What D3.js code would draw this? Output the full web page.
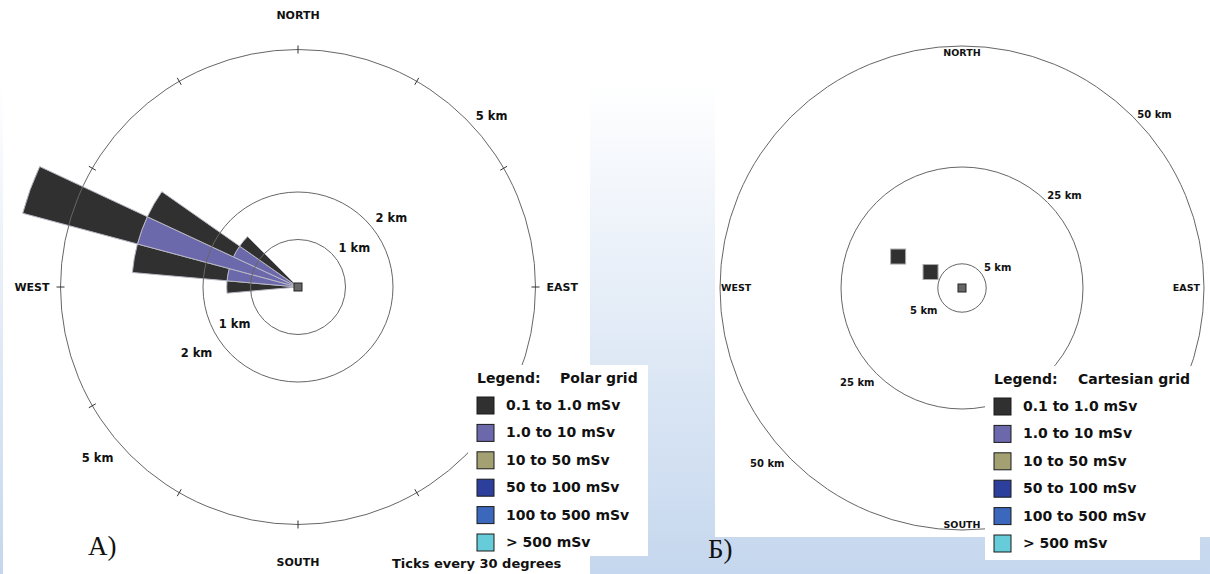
<!DOCTYPE html>
<html>
<head>
<meta charset="utf-8">
<script src="https://cdn.jsdelivr.net/npm/d3@7"></script>
<style>
  body { margin: 0; background: #fff; }
  svg text { font-family: "DejaVu Sans", sans-serif; font-weight: bold; fill: #111; }
  .ring { fill: none; stroke: #666; stroke-width: 1; }
  .tick { stroke: #333; stroke-width: 1; }
  .compass { font-size: 11px; }
  .rlabel { font-size: 11.5px; }
  .legend text { font-size: 14px; }
  .caption { font-family: "Liberation Serif", serif; font-weight: normal; font-size: 27px; }
</style>
</head>
<body>
<svg id="chart" width="1210" height="574"></svg>
<script>
/*
    Two plume dose maps: polar grid (A) and cartesian grid (B)
*/

// dose classes shared by both legends
var doseClasses = ["0.1 to 1.0 mSv", "1.0 to 10 mSv", "10 to 50 mSv",
                   "50 to 100 mSv", "100 to 500 mSv", "> 500 mSv"]
var doseColors = ["#303030", "#6c68ac", "#a3a071", "#2c3f9c", "#3b68bd", "#67ccda"]

// compass
var compassNames = ["NORTH", "EAST", "SOUTH", "WEST"]
var compassBearings = [0, 90, 180, 270]

// polar grid: rings (km), sectors (bearing of centre, deg), bands per sector
var polarRings = [1, 2, 5]
var polarSectorWidth = 10
var polarBearings = [270, 280, 290, 300, 310]
var polarBandEdges = [[0, 1.5], [0, 1.5, 3.5], [0, 3.5, 6], [0, 1.5, 3.5], [0, 1.5]]
var polarBandClass = [[0], [1, 0], [1, 0], [1, 0], [0]]
var polarTickStep = 30

// cartesian grid: rings (km) and cells (centre east / north, km)
var cartRings = [5, 25, 50]
var cartCellSize = 3.1
var cartCellEast = [-13.2, -6.5]
var cartCellNorth = [6.5, 3.3]
var cartCellClass = [0, 0]

var svg = d3.select("#chart")

// background gradient + the two white "screenshots"
var defs = svg.append("defs")
var grad = defs.append("linearGradient")
    .attr("id", "bg").attr("x1", 0).attr("y1", 0).attr("x2", 0).attr("y2", 1)
grad.append("stop").attr("offset", "0.14").attr("stop-color", "#ffffff")
grad.append("stop").attr("offset", "1").attr("stop-color", "#c5d7ee")
svg.append("rect").attr("width", 1210).attr("height", 574).attr("fill", "url(#bg)")
svg.append("rect").attr("x", 3).attr("y", 0).attr("width", 587).attr("height", 574).attr("fill", "#fff")
svg.append("rect").attr("x", 715).attr("y", 0).attr("width", 495).attr("height", 537).attr("fill", "#fff")

function toXY(cx, cy, r, bearing) {
    var a = bearing * Math.PI / 180
    return [cx + r * Math.sin(a), cy - r * Math.cos(a)]
}

/*
    Left: polar grid
*/
var pc = { x: 298, y: 287 }
var rPolar = d3.scaleLinear().domain([0, 5]).range([0, 237.5])
var gP = svg.append("g").attr("transform", "translate(" + pc.x + "," + pc.y + ")")

var arc = d3.arc()
var sectors = []
polarBearings.forEach(function (b, i) {
    var edges = polarBandEdges[i]
    for (var k = 0; k < edges.length - 1; k++) {
        sectors.push({
            startAngle: (b - polarSectorWidth / 2) * Math.PI / 180,
            endAngle: (b + polarSectorWidth / 2) * Math.PI / 180,
            innerRadius: rPolar(edges[k]),
            outerRadius: rPolar(edges[k + 1]),
            cls: polarBandClass[i][k]
        })
    }
})
gP.selectAll("path.sector")
    .data(sectors)
    .enter().append("path")
    .attr("class", "sector")
    .attr("d", arc)
    .attr("fill", function (d) { return doseColors[d.cls] })
    .attr("stroke", "#b8b8c4")
    .attr("stroke-width", 1)

gP.selectAll("circle.ring")
    .data(polarRings)
    .enter().append("circle")
    .attr("class", "ring")
    .attr("r", function (d) { return rPolar(d) })

// ticks every 30 degrees on the outer ring
var tickBearings = d3.range(0, 360, polarTickStep)
var rOut = rPolar(d3.max(polarRings))
gP.selectAll("line.tick")
    .data(tickBearings)
    .enter().append("line")
    .attr("class", "tick")
    .attr("x1", function (d) { return toXY(0, 0, rOut - 4, d)[0] })
    .attr("y1", function (d) { return toXY(0, 0, rOut - 4, d)[1] })
    .attr("x2", function (d) { return toXY(0, 0, rOut + 4, d)[0] })
    .attr("y2", function (d) { return toXY(0, 0, rOut + 4, d)[1] })

gP.append("rect")
    .attr("x", -4).attr("y", -4).attr("width", 8).attr("height", 8)
    .attr("fill", "#666").attr("stroke", "#222")

// ring labels NE and SW
polarRings.forEach(function (km) {
    var r = rPolar(km)
    var ne = toXY(0, 0, r + 21, 57 - 1.7 * km)
    var sw = toXY(0, 0, r + 26, 242 - 2.5 * km)
    gP.append("text").attr("class", "rlabel").attr("x", ne[0]).attr("y", ne[1])
        .attr("text-anchor", "middle").attr("dy", "0.35em").text(km + " km")
    gP.append("text").attr("class", "rlabel").attr("x", sw[0]).attr("y", sw[1])
        .attr("text-anchor", "middle").attr("dy", "0.35em").text(km + " km")
})

compassNames.forEach(function (name, i) {
    var b = compassBearings[i]
    var off = b === 0 ? 34 : b === 180 ? 37.5 : 11
    var p = toXY(0, 0, rOut + off, b)
    gP.append("text").attr("class", "compass")
        .attr("x", p[0]).attr("y", p[1])
        .attr("dy", "0.35em")
        .attr("text-anchor", b === 90 ? "start" : b === 270 ? "end" : "middle")
        .text(name)
})

/*
    Right: cartesian grid
*/
var cc = { x: 962, y: 288 }
var rCart = d3.scaleLinear().domain([0, 50]).range([0, 242])
var xCart = d3.scaleLinear().domain([-50, 50]).range([-242, 242])
var yCart = d3.scaleLinear().domain([-50, 50]).range([242, -242])
var gC = svg.append("g").attr("transform", "translate(" + cc.x + "," + cc.y + ")")

gC.selectAll("circle.ring")
    .data(cartRings)
    .enter().append("circle")
    .attr("class", "ring")
    .attr("r", function (d) { return rCart(d) })

var cells = cartCellEast.map(function (e, i) {
    return { e: e, n: cartCellNorth[i], cls: cartCellClass[i] }
})
gC.selectAll("rect.cell")
    .data(cells)
    .enter().append("rect")
    .attr("class", "cell")
    .attr("x", function (d) { return xCart(d.e - cartCellSize / 2) })
    .attr("y", function (d) { return yCart(d.n + cartCellSize / 2) })
    .attr("width", function (d) { return xCart(cartCellSize) - xCart(0) })
    .attr("height", function (d) { return xCart(cartCellSize) - xCart(0) })
    .attr("fill", function (d) { return doseColors[d.cls] })
    .attr("stroke", "#aaa")

gC.append("rect")
    .attr("x", -4).attr("y", -4).attr("width", 8).attr("height", 8)
    .attr("fill", "#666").attr("stroke", "#222")

cartRings.forEach(function (km) {
    var r = rCart(km)
    var ang = km < 10 ? 60 : 48
    var ne = toXY(0, 0, r + 17, ang)
    var sw = toXY(0, 0, r + 20, 180 + ang)
    gC.append("text").attr("class", "rlabel").style("font-size", "10px")
        .attr("x", ne[0]).attr("y", ne[1])
        .attr("text-anchor", "middle").attr("dy", "0.35em").text(km + " km")
    gC.append("text").attr("class", "rlabel").style("font-size", "10px")
        .attr("x", sw[0]).attr("y", sw[1])
        .attr("text-anchor", "middle").attr("dy", "0.35em").text(km + " km")
})

var rCartOut = rCart(d3.max(cartRings))
compassNames.forEach(function (name, i) {
    var b = compassBearings[i]
    var p = toXY(0, 0, rCartOut - 8, b)
    gC.append("text").attr("class", "compass").style("font-size", "9.5px")
        .attr("x", b === 270 ? -rCartOut + 1 : b === 90 ? rCartOut - 4 : p[0])
        .attr("y", b === 0 ? -rCartOut + 7 : b === 180 ? rCartOut - 5 : p[1])
        .attr("dy", "0.35em")
        .attr("text-anchor", b === 90 ? "end" : b === 270 ? "start" : "middle")
        .text(name)
})

/*
    Legends
*/
function drawLegend(x, y, w, h, title, textX) {
    var g = svg.append("g").attr("class", "legend").attr("transform", "translate(" + x + "," + y + ")")
    g.append("rect").attr("width", w).attr("height", h).attr("fill", "#fff")
    g.append("text").attr("x", 9).attr("y", 13).attr("dy", "0.35em").text("Legend:")
    g.append("text").attr("x", textX).attr("y", 13).attr("dy", "0.35em").text(title)
    var row = d3.scaleLinear().domain([0, doseClasses.length - 1]).range([40, 177])
    var items = g.selectAll("g.item")
        .data(doseClasses)
        .enter().append("g")
        .attr("transform", function (d, i) { return "translate(0," + row(i) + ")" })
    items.append("rect")
        .attr("x", 9).attr("y", -8).attr("width", 17).attr("height", 17)
        .attr("fill", function (d, i) { return doseColors[i] })
        .attr("stroke", "#1a1a1a")
    items.append("text")
        .attr("x", 38).attr("dy", "0.35em")
        .text(function (d) { return d })
}
drawLegend(468, 365, 180, 191, "Polar grid", 92)
drawLegend(985, 366, 215, 194, "Cartesian grid", 93)

svg.append("text").style("font-size", "13px").attr("x", 392).attr("y", 563)
    .attr("dy", "0.35em").text("Ticks every 30 degrees")

svg.append("text").attr("class", "caption").attr("x", 88).attr("y", 555).text("А)")
svg.append("text").attr("class", "caption").attr("x", 708).attr("y", 558).text("Б)")
</script>
</body>
</html>
